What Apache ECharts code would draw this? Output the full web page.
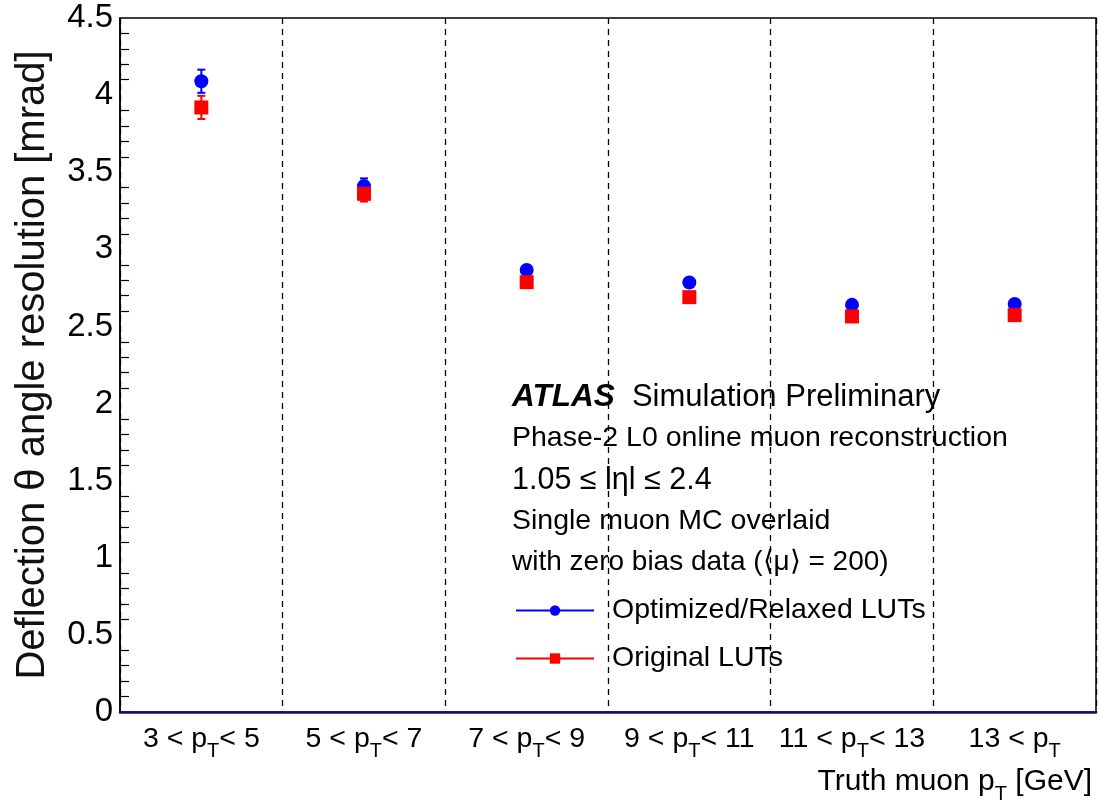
<!DOCTYPE html>
<html>
<head>
<meta charset="utf-8">
<script src="https://cdn.jsdelivr.net/npm/echarts@6/dist/echarts.min.js"></script>
<style>
  html, body { margin: 0; padding: 0; background: #fff; }
  #chart { width: 1100px; height: 806px; }
</style>
</head>
<body>
<div id="chart"></div>
<script>
// pT bins (lower, upper edge; null = open)
const binLow = [3, 5, 7, 9, 11, 13];
const binHigh = [5, 7, 9, 11, 13, null];

const optimized = [4.09, 3.41, 2.866, 2.785, 2.64, 2.646];
const optimizedErr = [0.075, 0.05, 0.02, 0.02, 0.01, 0.01];
const original = [3.92, 3.36, 2.787, 2.69, 2.565, 2.573];
const originalErr = [0.075, 0.05, 0.02, 0.015, 0.01, 0.01];

const categories = binLow.map((lo, i) =>
  binHigh[i] == null ? lo + " < p{s|T}" : lo + " < p{s|T}< " + binHigh[i]
);

const FONT = "Liberation Sans";

const chart = echarts.init(document.getElementById("chart"));

function errorBars(values, errs, color) {
  return {
    type: "custom",
    silent: true,
    data: values.map((v, i) => [i, v, errs[i]]),
    renderItem(params, api) {
      const x = api.value(0);
      const v = api.value(1);
      const e = api.value(2);
      const top = api.coord([x, v + e]);
      const bot = api.coord([x, v - e]);
      const style = { stroke: color, lineWidth: 2 };
      return {
        type: "group",
        children: [
          { type: "line", shape: { x1: top[0], y1: top[1], x2: bot[0], y2: bot[1] }, style },
          { type: "line", shape: { x1: top[0] - 4, y1: top[1], x2: top[0] + 4, y2: top[1] }, style },
          { type: "line", shape: { x1: bot[0] - 4, y1: bot[1], x2: bot[0] + 4, y2: bot[1] }, style },
        ],
      };
    },
    z: 2,
  };
}

const subRich = {
  s: { fontFamily: FONT, fontSize: 20, color: "#000", padding: [24, 0, 0, 0] },
};

chart.setOption({
  animation: false,
  textStyle: { fontFamily: FONT },
  grid: {
    left: 120,
    right: 4,
    top: 18,
    bottom: 94,
    show: true,
    borderColor: "#000",
    borderWidth: 1.5,
  },
  xAxis: {
    type: "category",
    data: categories,
    boundaryGap: true,
    axisLine: { lineStyle: { color: "#10107a", width: 2.5 } },
    axisTick: { inside: true, length: 8, lineStyle: { color: "#000", width: 1.2 } },
    axisLabel: {
      interval: 0,
      fontSize: 28.5,
      color: "#000",
      margin: 5,
      rich: subRich,
    },
    splitLine: {
      show: true,
      lineStyle: { type: [6, 5], color: "#000", width: 1.3 },
    },
  },
  yAxis: {
    type: "value",
    min: 0,
    max: 4.5,
    interval: 0.5,
    name: "Deflection \u03b8 angle resolution [mrad]",
    nameLocation: "middle",
    nameGap: 67,
    nameTextStyle: { fontSize: 40, color: "#111" },
    axisLine: { show: true, lineStyle: { color: "#000", width: 1.5 } },
    axisTick: { inside: true, length: 16, lineStyle: { color: "#000", width: 1.2 } },
    minorTick: { show: true, splitNumber: 5, length: 9, lineStyle: { color: "#000", width: 1.2 } },
    axisLabel: {
      fontSize: 33,
      color: "#000",
      margin: 7,
      formatter: (v) => String(v),
    },
    splitLine: { show: false },
  },
  legend: {
    orient: "vertical",
    left: 510,
    top: 591,
    itemWidth: 78,
    itemHeight: 13,
    itemGap: 19,
    data: ["Optimized/Relaxed LUTs", "Original LUTs"],
    lineStyle: { opacity: 1, width: 2 },
    textStyle: { fontSize: 28.5, color: "#000", padding: [0, 0, 0, 13] },
  },
  graphic: [
    {
      type: "text",
      left: 512,
      top: 381,
      style: {
        text: "{b|ATLAS}  Simulation Preliminary",
        fontFamily: FONT,
        fontSize: 31,
        fill: "#000",
        rich: {
          b: { fontFamily: FONT, fontSize: 31.5, fontWeight: "bold", fontStyle: "italic" },
        },
      },
    },
    {
      type: "text",
      left: 512,
      top: 424,
      style: { text: "Phase-2 L0 online muon reconstruction", fontFamily: FONT, fontSize: 28.5, fill: "#000" },
    },
    {
      type: "text",
      left: 512,
      top: 465,
      style: { text: "1.05 \u2264 l\u03b7l \u2264 2.4", fontFamily: FONT, fontSize: 30.5, fill: "#000" },
    },
    {
      type: "text",
      left: 512,
      top: 507,
      style: { text: "Single muon MC overlaid", fontFamily: FONT, fontSize: 28.5, fill: "#000" },
    },
    {
      type: "text",
      left: 512,
      top: 548,
      style: { text: "with zero bias data (\u27e8\u03bc\u27e9 = 200)", fontFamily: FONT, fontSize: 28, fill: "#000" },
    },
    {
      type: "text",
      right: 8,
      top: 767,
      style: {
        text: "Truth muon p{s|T} [GeV]",
        fontFamily: FONT,
        fontSize: 30,
        fill: "#000",
        rich: subRich,
      },
    },
  ],
  series: [
    errorBars(optimized, optimizedErr, "#0000ff"),
    {
      name: "Optimized/Relaxed LUTs",
      type: "line",
      data: optimized,
      symbol: "circle",
      symbolSize: 14,
      itemStyle: { color: "#0000ff" },
      lineStyle: { opacity: 0, color: "#0000ff" },
      z: 3,
    },
    errorBars(original, originalErr, "#ff0000"),
    {
      name: "Original LUTs",
      type: "line",
      data: original,
      symbol: "rect",
      symbolSize: 14,
      itemStyle: { color: "#ff0000" },
      lineStyle: { opacity: 0, color: "#ff0000" },
      z: 4,
    },
  ],
});
</script>
</body>
</html>
